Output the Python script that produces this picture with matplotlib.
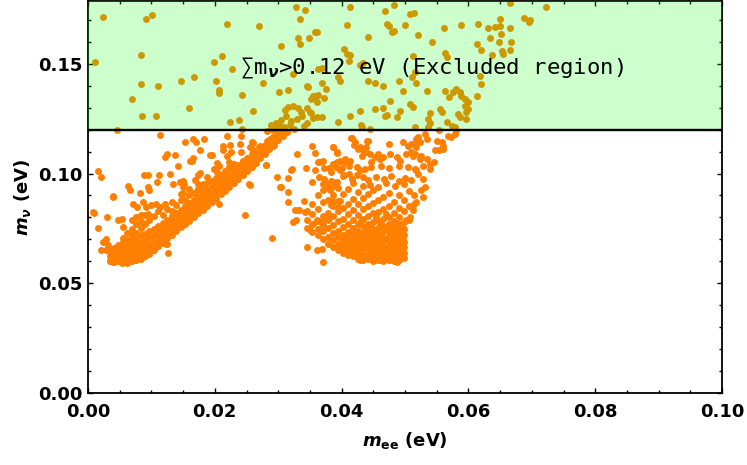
import matplotlib
matplotlib.use("Agg")
import matplotlib.pyplot as plt
from matplotlib.ticker import MultipleLocator
import numpy as np

# ---- data: (m_ee, m_nu) in eV ----
# left branch, dense core: m_ee -> list of m_nu
branch1_core = {
    0.0034: [0.0600, 0.0622, 0.0648],
    0.0041: [0.0598, 0.0615, 0.0640, 0.0662],
    0.0048: [0.0602, 0.0627, 0.0650, 0.0675],
    0.0055: [0.0598, 0.0612, 0.0638, 0.0662, 0.0688, 0.0708],
    0.0062: [0.0604, 0.0625, 0.0650, 0.0672, 0.0697, 0.0728],
    0.0069: [0.0600, 0.0618, 0.0640, 0.0665, 0.0688, 0.0712, 0.0745],
    0.0076: [0.0606, 0.0630, 0.0655, 0.0678, 0.0702, 0.0730, 0.0768],
    0.0083: [0.0612, 0.0640, 0.0662, 0.0690, 0.0718, 0.0750, 0.0785],
    0.0090: [0.0622, 0.0648, 0.0672, 0.0698, 0.0725, 0.0768, 0.0810],
    0.0097: [0.0635, 0.0660, 0.0685, 0.0710, 0.0738, 0.0790],
    0.0104: [0.0652, 0.0675, 0.0700, 0.0722, 0.0748, 0.0805],
    0.0111: [0.0668, 0.0690, 0.0712, 0.0735, 0.0760, 0.0830],
    0.0118: [0.0685, 0.0705, 0.0728, 0.0750, 0.0775, 0.0812],
    0.0125: [0.0705, 0.0722, 0.0745, 0.0765, 0.0790, 0.0840],
    0.0132: [0.0720, 0.0740, 0.0760, 0.0782, 0.0805, 0.0830, 0.0870],
    0.0139: [0.0738, 0.0755, 0.0775, 0.0797, 0.0820, 0.0855],
    0.0146: [0.0755, 0.0772, 0.0792, 0.0812, 0.0835, 0.0878, 0.0905],
    0.0153: [0.0770, 0.0788, 0.0808, 0.0828, 0.0850, 0.0880],
    0.0160: [0.0785, 0.0803, 0.0822, 0.0842, 0.0865, 0.0900, 0.0930],
    0.0167: [0.0800, 0.0818, 0.0838, 0.0858, 0.0880, 0.0912],
    0.0174: [0.0818, 0.0835, 0.0853, 0.0873, 0.0895, 0.0925, 0.0950],
    0.0181: [0.0835, 0.0852, 0.0870, 0.0888, 0.0910, 0.0940],
    0.0188: [0.0852, 0.0868, 0.0885, 0.0903, 0.0925, 0.0955, 0.0985],
    0.0195: [0.0868, 0.0885, 0.0902, 0.0920, 0.0940, 0.0968],
    0.0202: [0.0885, 0.0902, 0.0918, 0.0936, 0.0955, 0.0980],
    0.0209: [0.0905, 0.0920, 0.0935, 0.0952, 0.0970, 0.0995],
    0.0216: [0.0922, 0.0937, 0.0952, 0.0968, 0.0987, 0.1010],
    0.0223: [0.0940, 0.0955, 0.0970, 0.0985, 0.1003, 0.1028],
    0.0230: [0.0958, 0.0972, 0.0987, 0.1002, 0.1020, 0.1042],
    0.0237: [0.0975, 0.0990, 0.1005, 0.1020, 0.1038],
    0.0244: [0.0993, 0.1008, 0.1022, 0.1037, 0.1055],
    0.0251: [0.1012, 0.1026, 0.1040, 0.1055, 0.1072],
    0.0258: [0.1030, 0.1045, 0.1058, 0.1073, 0.1090],
    0.0265: [0.1050, 0.1063, 0.1077, 0.1092],
    0.0272: [0.1070, 0.1083, 0.1097, 0.1112],
    0.0279: [0.1090, 0.1103, 0.1117, 0.1132],
    0.0286: [0.1110, 0.1124, 0.1138, 0.1152],
    0.0293: [0.1132, 0.1146, 0.1160],
    0.0300: [0.1152, 0.1166, 0.1180],
    0.0307: [0.1172, 0.1186],
    0.0314: [0.1190],
}

branch1_scatter = [
    (0.0016, 0.1010), (0.0021, 0.0986), (0.0009, 0.0821), (0.0016, 0.0753), (0.0039, 0.0897),
    (0.0063, 0.0945), (0.0066, 0.0926), (0.0082, 0.0912), (0.0089, 0.0991), (0.0094, 0.0991),
    (0.0112, 0.0991), (0.0109, 0.0961), (0.0095, 0.0938), (0.0097, 0.0926), (0.0129, 0.0999),
    (0.0134, 0.0950), (0.0150, 0.0965), (0.0152, 0.0950), (0.0168, 0.0971), (0.0174, 0.0995),
    (0.0150, 0.0912), (0.0174, 0.0930), (0.0181, 0.0950), (0.0071, 0.0859), (0.0078, 0.0847),
    (0.0087, 0.0870), (0.0092, 0.0847), (0.0100, 0.0855), (0.0108, 0.0862), (0.0113, 0.0847),
    (0.0121, 0.0862), (0.0047, 0.0786), (0.0053, 0.0794), (0.0055, 0.0756), (0.0068, 0.0733),
    (0.0076, 0.0803), (0.0084, 0.0809), (0.0095, 0.0817), (0.0029, 0.0703), (0.0024, 0.0688),
    (0.0021, 0.0650), (0.0029, 0.0650), (0.0032, 0.0673), (0.0124, 0.0680), (0.0126, 0.0638),
    (0.0030, 0.0803), (0.0069, 0.0786), (0.0114, 0.1176), (0.0124, 0.1090), (0.0121, 0.1077),
    (0.0137, 0.1086), (0.0142, 0.1035), (0.0161, 0.1059), (0.0166, 0.1071), (0.0177, 0.1003),
    (0.0193, 0.1086), (0.0203, 0.1047), (0.0153, 0.1142), (0.0166, 0.1155), (0.0171, 0.1145),
    (0.0183, 0.1155), (0.0177, 0.1109), (0.0164, 0.1059), (0.0195, 0.1085), (0.0219, 0.1170),
    (0.0213, 0.1127), (0.0224, 0.1130), (0.0226, 0.1100), (0.0219, 0.1082), (0.0213, 0.1105),
    (0.0242, 0.1173), (0.0240, 0.1135), (0.0258, 0.1142), (0.0256, 0.1120), (0.0261, 0.1105),
    (0.0271, 0.1127), (0.0282, 0.1150), (0.0287, 0.1155), (0.0292, 0.1165), (0.0302, 0.1176),
    (0.0242, 0.1097), (0.0245, 0.1059), (0.0250, 0.1066), (0.0253, 0.1051), (0.0256, 0.1036),
    (0.0250, 0.1024), (0.0281, 0.1039), (0.0330, 0.1089), (0.0198, 0.1021), (0.0206, 0.1036),
    (0.0203, 0.1006), (0.0223, 0.1051), (0.0229, 0.1036), (0.0224, 0.1006), (0.0234, 0.1014),
    (0.0256, 0.0948), (0.0298, 0.0985), (0.0316, 0.0980), (0.0321, 0.1021), (0.0304, 0.0938),
    (0.0316, 0.0917), (0.0316, 0.0871), (0.0327, 0.0832), (0.0324, 0.0779), (0.0248, 0.0809),
    (0.0206, 0.0862), (0.0145, 0.0961), (0.0150, 0.0938), (0.0148, 0.0908), (0.0290, 0.0708),
    (0.0123, 0.0677), (0.0008, 0.0826), (0.0040, 0.0895), (0.0261, 0.1138), (0.0269, 0.1120),
    (0.0292, 0.1127), (0.0280, 0.1041), (0.0254, 0.0953), (0.0303, 0.0938), (0.0320, 0.1018),
    (0.0332, 0.0835), (0.0328, 0.0786), (0.0035, 0.0600), (0.0040, 0.0598), (0.0053, 0.0593),
    (0.0061, 0.0593), (0.0107, 0.0665), (0.0102, 0.0650),
]

# right branch, dense core
branch2_core = {
    0.0346: [0.0750, 0.0790, 0.0830],
    0.0354: [0.0735, 0.0770, 0.0815, 0.0860],
    0.0362: [0.0720, 0.0745, 0.0785, 0.0840, 0.0900],
    0.0370: [0.0700, 0.0738, 0.0765, 0.0805, 0.0870, 0.0925],
    0.0378: [0.0680, 0.0712, 0.0750, 0.0790, 0.0822, 0.0880, 0.0950],
    0.0386: [0.0665, 0.0695, 0.0728, 0.0765, 0.0805, 0.0850, 0.0900, 0.0960],
    0.0394: [0.0650, 0.0678, 0.0710, 0.0740, 0.0782, 0.0830, 0.0875, 0.0935],
    0.0402: [0.0640, 0.0665, 0.0695, 0.0722, 0.0758, 0.0795, 0.0842, 0.0905, 0.0990],
    0.0410: [0.0630, 0.0655, 0.0682, 0.0708, 0.0735, 0.0772, 0.0815, 0.0860, 0.0930],
    0.0418: [0.0625, 0.0648, 0.0672, 0.0698, 0.0725, 0.0752, 0.0790, 0.0835, 0.0885, 0.0955],
    0.0426: [0.0612, 0.0638, 0.0662, 0.0688, 0.0712, 0.0740, 0.0770, 0.0810, 0.0860, 0.0915],
    0.0430: [0.0625, 0.0675, 0.0725, 0.0785],
    0.0434: [0.0605, 0.0630, 0.0655, 0.0678, 0.0702, 0.0728, 0.0760, 0.0795, 0.0840, 0.0890, 0.0945],
    0.0438: [0.0618, 0.0668, 0.0718, 0.0752],
    0.0442: [0.0610, 0.0635, 0.0660, 0.0685, 0.0710, 0.0738, 0.0770, 0.0805, 0.0850, 0.0905],
    0.0446: [0.0622, 0.0672, 0.0700, 0.0755],
    0.0450: [0.0602, 0.0625, 0.0648, 0.0672, 0.0695, 0.0720, 0.0748, 0.0780, 0.0818, 0.0865, 0.0925],
    0.0454: [0.0614, 0.0660, 0.0708, 0.0735, 0.0800],
    0.0458: [0.0608, 0.0630, 0.0652, 0.0675, 0.0698, 0.0722, 0.0750, 0.0782, 0.0825, 0.0880],
    0.0462: [0.0618, 0.0642, 0.0686, 0.0712, 0.0765],
    0.0466: [0.0600, 0.0620, 0.0642, 0.0664, 0.0686, 0.0708, 0.0732, 0.0760, 0.0795, 0.0840, 0.0895],
    0.0470: [0.0612, 0.0655, 0.0698, 0.0745, 0.0815],
    0.0474: [0.0606, 0.0628, 0.0650, 0.0672, 0.0694, 0.0716, 0.0740, 0.0768, 0.0802, 0.0850, 0.0910],
    0.0478: [0.0616, 0.0660, 0.0705, 0.0750],
    0.0482: [0.0600, 0.0620, 0.0642, 0.0664, 0.0686, 0.0708, 0.0730, 0.0755, 0.0785, 0.0820, 0.0870],
    0.0486: [0.0612, 0.0652, 0.0697, 0.0722, 0.0770],
    0.0490: [0.0605, 0.0625, 0.0647, 0.0670, 0.0692, 0.0715, 0.0740, 0.0768, 0.0800, 0.0845, 0.0900],
    0.0494: [0.0630, 0.0678, 0.0728, 0.0760],
    0.0498: [0.0615, 0.0640, 0.0665, 0.0690, 0.0718, 0.0748, 0.0780, 0.0830, 0.0880],
    0.0506: [0.0790, 0.0850, 0.0920],
    0.0514: [0.0860, 0.0900],
}

branch2_scatter = [
    (0.0370, 0.0597), (0.0346, 0.0665), (0.0361, 0.0650), (0.0369, 0.0658), (0.0340, 0.0877),
    (0.0333, 0.0832), (0.0342, 0.0824), (0.0353, 0.0961), (0.0358, 0.1014), (0.0363, 0.1051),
    (0.0366, 0.1051), (0.0344, 0.1026), (0.0353, 0.1127), (0.0358, 0.1094), (0.0386, 0.1123),
    (0.0393, 0.1094), (0.0415, 0.1162), (0.0420, 0.1132), (0.0426, 0.1112), (0.0441, 0.1150),
    (0.0439, 0.1120), (0.0439, 0.1097), (0.0474, 0.1135), (0.0497, 0.1142), (0.0505, 0.1127),
    (0.0516, 0.1135), (0.0518, 0.1120), (0.0521, 0.1165), (0.0532, 0.1180), (0.0550, 0.1148),
    (0.0558, 0.1142), (0.0560, 0.1112), (0.0568, 0.1173), (0.0579, 0.1180), (0.0547, 0.1105),
    (0.0387, 0.1045), (0.0392, 0.1051), (0.0403, 0.1051), (0.0413, 0.1059), (0.0424, 0.1030),
    (0.0429, 0.1014), (0.0437, 0.1021), (0.0447, 0.1051), (0.0458, 0.1089), (0.0466, 0.1074),
    (0.0476, 0.1089), (0.0487, 0.1077), (0.0492, 0.1059), (0.0502, 0.1089), (0.0510, 0.1097),
    (0.0516, 0.1089), (0.0526, 0.1082), (0.0534, 0.1066), (0.0539, 0.1044), (0.0518, 0.1014),
    (0.0521, 0.0999), (0.0529, 0.0976), (0.0532, 0.0938), (0.0526, 0.0923), (0.0529, 0.0893),
    (0.0518, 0.0870), (0.0513, 0.0832), (0.0508, 0.0803), (0.0502, 0.0786), (0.0497, 0.0741),
    (0.0497, 0.0695), (0.0495, 0.0650), (0.0492, 0.0620), (0.0487, 0.0597), (0.0429, 0.0605),
    (0.0445, 0.0620), (0.0461, 0.0605), (0.0476, 0.0605), (0.0397, 0.0680), (0.0403, 0.0665),
    (0.0411, 0.0650), (0.0418, 0.0635), (0.0350, 0.0741), (0.0355, 0.0771), (0.0361, 0.0786),
    (0.0371, 0.0786), (0.0382, 0.0803), (0.0376, 0.0938), (0.0382, 0.0923), (0.0387, 0.0945),
    (0.0392, 0.0961), (0.0384, 0.0968), (0.0371, 0.0953), (0.0387, 0.0877), (0.0384, 0.0855),
    (0.0395, 0.0847), (0.0397, 0.0877), (0.0384, 0.1006), (0.0397, 0.1014), (0.0403, 0.0991),
    (0.0411, 0.0999), (0.0416, 0.0976), (0.0424, 0.0991), (0.0387, 0.1120), (0.0392, 0.1097),
    (0.0416, 0.1161), (0.0421, 0.1142), (0.0440, 0.1150), (0.0429, 0.1120), (0.0434, 0.1105),
    (0.0432, 0.1082), (0.0510, 0.1135), (0.0518, 0.1157), (0.0524, 0.1142), (0.0534, 0.1155),
    (0.0553, 0.1105), (0.0560, 0.1127), (0.0573, 0.1165), (0.0545, 0.1051), (0.0371, 0.1055),
    (0.0397, 0.1059), (0.0405, 0.1066), (0.0445, 0.1089), (0.0453, 0.1074), (0.0461, 0.1066),
    (0.0513, 0.1082), (0.0524, 0.1066), (0.0529, 0.1036), (0.0539, 0.1021), (0.0372, 0.1027),
    (0.0380, 0.1024), (0.0391, 0.1031), (0.0401, 0.1024), (0.0412, 0.1034), (0.0446, 0.1031),
    (0.0462, 0.1036), (0.0475, 0.1024), (0.0490, 0.1036), (0.0505, 0.1031), (0.0516, 0.1020),
    (0.0364, 0.0985), (0.0372, 0.0973), (0.0433, 0.0983), (0.0442, 0.0970), (0.0455, 0.0985),
    (0.0467, 0.0975), (0.0478, 0.0990), (0.0490, 0.0968), (0.0500, 0.0980), (0.0510, 0.0972),
    (0.0498, 0.0950), (0.0485, 0.0945), (0.0470, 0.0955), (0.0458, 0.0940), (0.0445, 0.0948),
]

# points above the cosmological bound
excluded_pts = [
    (0.0023, 0.1712), (0.0011, 0.1508), (0.0092, 0.1706), (0.0101, 0.1724), (0.0083, 0.1542),
    (0.0083, 0.1406), (0.0110, 0.1398), (0.0070, 0.1338), (0.0085, 0.1264), (0.0108, 0.1264),
    (0.0045, 0.1199), (0.0146, 0.1420), (0.0167, 0.1440), (0.0160, 0.1297), (0.0202, 0.1420),
    (0.0207, 0.1379), (0.0207, 0.1367), (0.0198, 0.1508), (0.0212, 0.1535), (0.0219, 0.1683),
    (0.0227, 0.1474), (0.0243, 0.1357), (0.0224, 0.1236), (0.0238, 0.1244), (0.0243, 0.1203),
    (0.0261, 0.1285), (0.0269, 0.1670), (0.0304, 0.1583), (0.0328, 0.1759), (0.0335, 0.1706),
    (0.0349, 0.1617), (0.0334, 0.1589), (0.0332, 0.1617), (0.0358, 0.1644), (0.0361, 0.1644),
    (0.0276, 0.1414), (0.0302, 0.1373), (0.0316, 0.1379), (0.0323, 0.1453), (0.0347, 0.1394),
    (0.0351, 0.1338), (0.0345, 0.1297), (0.0351, 0.1277), (0.0361, 0.1256), (0.0302, 0.1223),
    (0.0289, 0.1205), (0.0282, 0.1195), (0.0310, 0.1290), (0.0316, 0.1305), (0.0324, 0.1307),
    (0.0331, 0.1298), (0.0336, 0.1282), (0.0337, 0.1263), (0.0330, 0.1248), (0.0312, 0.1262),
    (0.0305, 0.1245), (0.0320, 0.1240), (0.0296, 0.1232), (0.0318, 0.1222), (0.0309, 0.1212),
    (0.0296, 0.1210), (0.0325, 0.1205), (0.0289, 0.1220), (0.0300, 0.1205), (0.0292, 0.1200),
    (0.0340, 0.1215), (0.0345, 0.1230),
    (0.0414, 0.1759), (0.0483, 0.1768), (0.0469, 0.1741), (0.0508, 0.1725), (0.0514, 0.1732),
    (0.0342, 0.1745), (0.0408, 0.1677), (0.0472, 0.1683), (0.0474, 0.1674), (0.0500, 0.1677),
    (0.0562, 0.1665), (0.0589, 0.1677), (0.0615, 0.1683), (0.0665, 0.1779), (0.0650, 0.1703),
    (0.0631, 0.1665), (0.0642, 0.1668), (0.0650, 0.1673), (0.0665, 0.1665), (0.0688, 0.1707),
    (0.0697, 0.1698), (0.0695, 0.1691), (0.0722, 0.1759), (0.0479, 0.1643), (0.0482, 0.1650),
    (0.0441, 0.1624), (0.0521, 0.1630), (0.0542, 0.1601), (0.0613, 0.1589), (0.0634, 0.1617),
    (0.0652, 0.1635), (0.0648, 0.1601), (0.0667, 0.1597), (0.0620, 0.1562), (0.0637, 0.1541),
    (0.0653, 0.1559), (0.0655, 0.1544), (0.0665, 0.1562), (0.0403, 0.1567), (0.0408, 0.1544),
    (0.0413, 0.1541), (0.0411, 0.1514), (0.0429, 0.1495), (0.0434, 0.1505), (0.0513, 0.1536),
    (0.0563, 0.1547), (0.0566, 0.1529), (0.0618, 0.1445), (0.0620, 0.1407), (0.0613, 0.1351),
    (0.0363, 0.1476), (0.0369, 0.1483), (0.0397, 0.1423), (0.0395, 0.1438), (0.0346, 0.1400),
    (0.0369, 0.1414), (0.0376, 0.1386), (0.0358, 0.1355), (0.0363, 0.1359), (0.0355, 0.1351),
    (0.0361, 0.1327), (0.0372, 0.1344), (0.0350, 0.1279), (0.0355, 0.1251), (0.0369, 0.1256),
    (0.0395, 0.1236), (0.0414, 0.1264), (0.0431, 0.1223), (0.0432, 0.1214), (0.0445, 0.1203),
    (0.0453, 0.1414), (0.0466, 0.1400), (0.0491, 0.1420), (0.0497, 0.1374), (0.0517, 0.1414),
    (0.0534, 0.1374), (0.0477, 0.1332), (0.0453, 0.1293), (0.0466, 0.1297), (0.0468, 0.1264),
    (0.0472, 0.1268), (0.0488, 0.1256), (0.0508, 0.1317), (0.0513, 0.1305), (0.0539, 0.1274),
    (0.0555, 0.1293), (0.0558, 0.1279), (0.0537, 0.1248), (0.0539, 0.1229), (0.0537, 0.1214),
    (0.0516, 0.1211), (0.0553, 0.1199), (0.0563, 0.1377), (0.0569, 0.1348), (0.0576, 0.1370),
    (0.0581, 0.1384), (0.0586, 0.1370), (0.0589, 0.1355), (0.0595, 0.1339), (0.0600, 0.1324),
    (0.0595, 0.1309), (0.0600, 0.1293), (0.0597, 0.1279), (0.0584, 0.1271), (0.0587, 0.1256),
    (0.0597, 0.1248), (0.0566, 0.1233), (0.0574, 0.1218), (0.0579, 0.1211), (0.0581, 0.1199),
    (0.0516, 0.1464), (0.0511, 0.1438), (0.0441, 0.1423), (0.0492, 0.1286), (0.0429, 0.1286),
]

SUM_BOUND = 0.12
X_MAX = 0.10
Y_MAX = 0.1786

POINT_COLOR = (1.0, 0.5, 0.0)
LABEL = "\u2211m$_{\\nu}$>0.12 eV (Excluded region)"


def expand(core):
    xs, ys = [], []
    for x, col in core.items():
        xs.extend([x] * len(col))
        ys.extend(col)
    return xs, ys


plt.rcParams["mathtext.fontset"] = "custom"
plt.rcParams["mathtext.rm"] = "DejaVu Sans:bold"
plt.rcParams["mathtext.bf"] = "DejaVu Sans:bold"
plt.rcParams["mathtext.it"] = "DejaVu Sans:bold:italic"

b1x, b1y = expand(branch1_core)
b2x, b2y = expand(branch2_core)
pts = (list(zip(b1x, b1y)) + branch1_scatter + list(zip(b2x, b2y))
       + branch2_scatter + excluded_pts)
pts = np.array(pts)

fig = plt.figure(figsize=(7.47, 4.65), dpi=100)
ax = fig.add_axes([88 / 747, 1 - 393 / 465, (722 - 88) / 747, 392 / 465])

ax.scatter(pts[:, 0], pts[:, 1], s=25, color=POINT_COLOR, linewidths=0, zorder=2)
ax.axhspan(SUM_BOUND, Y_MAX, color=(0.0, 1.0, 0.0), alpha=0.2, linewidth=0, zorder=3)
ax.axhline(SUM_BOUND, color="black", linewidth=1.7, zorder=4)
ax.text(0.0543, 0.1485, LABEL, ha="center", va="center", fontsize=16,
        family="DejaVu Sans Mono", zorder=5)

ax.set_xlim(0, X_MAX)
ax.set_ylim(0, Y_MAX)
ax.xaxis.set_major_locator(MultipleLocator(0.02))
ax.xaxis.set_minor_locator(MultipleLocator(0.005))
ax.yaxis.set_major_locator(MultipleLocator(0.05))
ax.yaxis.set_minor_locator(MultipleLocator(0.01))
ax.xaxis.set_major_formatter(lambda v, p: f"{v:.2f}")
ax.yaxis.set_major_formatter(lambda v, p: f"{v:.2f}")
ax.tick_params(which="both", direction="in", top=True, right=True, width=1)
ax.tick_params(which="major", length=3.6)
ax.tick_params(which="minor", length=2.4)
ax.tick_params(axis="x", which="major", pad=7)
ax.tick_params(axis="y", which="major", pad=4)
for lab in ax.get_xticklabels() + ax.get_yticklabels():
    lab.set_fontsize(13)
    lab.set_fontweight("bold")
for sp in ax.spines.values():
    sp.set_linewidth(1.3)

ax.set_xlabel("$m_{\\mathbf{ee}}$ (eV)", fontsize=13, fontweight="bold", labelpad=7)
ax.set_ylabel("$m_{\\nu}$ (eV)", fontsize=13, fontweight="bold", labelpad=4)

fig.savefig("out.png", dpi=100)
